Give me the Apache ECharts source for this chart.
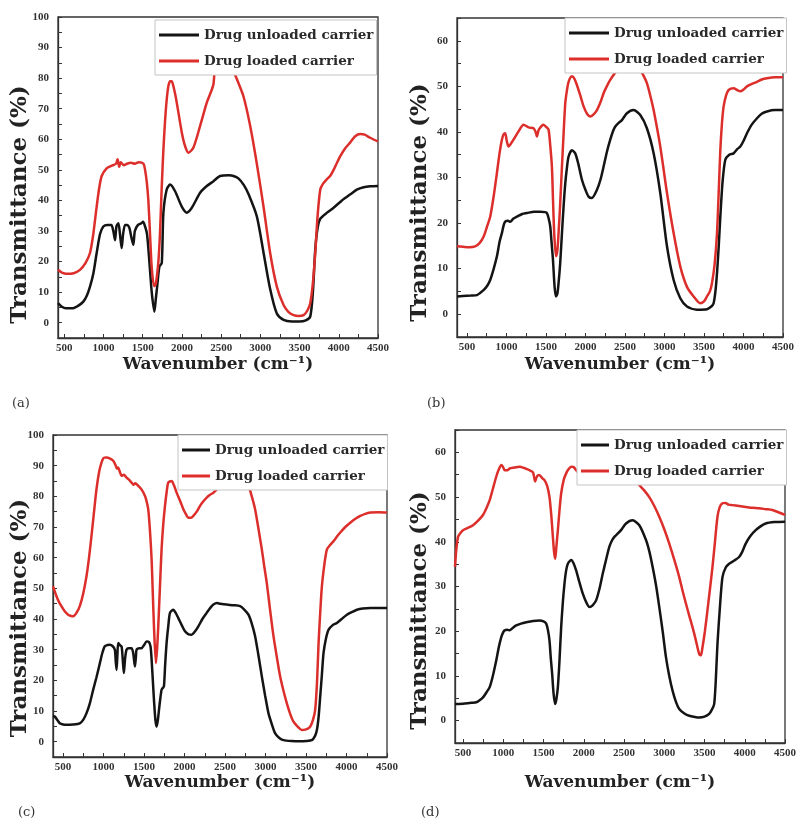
<!DOCTYPE html>
<html>
<head>
<meta charset="utf-8">
<script src="https://cdn.jsdelivr.net/npm/echarts@6/dist/echarts.min.js"></script>
<style>
html,body{margin:0;padding:0;background:#fff;}
#main{width:799px;height:820px;}
</style>
</head>
<body>
<div id="main"></div>
<script>
// FTIR spectra, 4 panels: [wavenumber, transmittance %]
var aUnloaded = [[420,6.4],[470,5.2],[520,4.7],[600,4.7],[680,5.6],[743,6.9],[790,9],[828,11.8],[870,16],[913,22.8],[956,29],[998,31.5],[1050,32],[1100,32],[1125,30],[1147,27],[1165,31.5],[1190,32.5],[1210,29],[1232,24.4],[1250,29],[1275,32],[1300,32],[1330,31],[1355,28],[1380,25.5],[1400,30],[1440,32],[1480,32.5],[1505,33],[1530,31.5],[1555,29],[1585,20],[1615,10],[1649,3.6],[1668,8],[1685,12],[1713,18.4],[1743,19.5],[1764,36],[1806,43.6],[1850,45.2],[1913,43],[1998,38],[2062,36],[2126,37.6],[2232,42.5],[2317,44.7],[2402,46.3],[2487,48],[2600,48.2],[2657,48],[2720,47.2],[2790,45],[2850,42],[2955,34.8],[3040,23],[3125,11],[3210,3],[3296,0.9],[3400,0.4],[3500,0.4],[3580,0.8],[3636,2],[3670,10],[3700,24],[3730,31],[3764,34],[3850,36],[3934,37.6],[4040,40],[4147,42],[4230,43.5],[4317,44.3],[4400,44.6],[4500,44.7]];
var aLoaded = [[420,17.3],[470,16.4],[530,16],[620,16.2],[700,17.3],[770,19.5],[828,22.8],[870,29],[913,38],[945,44],[977,48],[1040,50.5],[1100,51.3],[1160,52],[1180,53.5],[1200,51],[1220,52.5],[1260,51.5],[1300,52],[1350,52.3],[1400,52],[1450,52.5],[1510,52],[1530,50],[1552,46],[1572,40],[1595,28],[1615,18],[1645,12],[1665,12.5],[1680,15],[1700,20],[1720,29],[1742,44],[1764,56.7],[1785,66],[1806,73],[1828,77.5],[1850,79],[1870,79],[1890,77.5],[1920,74],[1955,68.8],[2000,62],[2040,57.8],[2083,55.6],[2147,57.3],[2232,64.4],[2317,72],[2370,75.5],[2402,78],[2423,84],[2480,89],[2540,90],[2590,88],[2615,84],[2660,82],[2700,79.7],[2785,74],[2870,64.4],[2955,52],[3040,38],[3125,22.8],[3210,11.8],[3296,5.8],[3360,3.5],[3423,2.5],[3490,2.2],[3551,2.5],[3600,4],[3636,6.4],[3670,13],[3700,22.8],[3730,35],[3764,43.6],[3800,45.5],[3849,47],[3890,48],[3934,50],[3980,52.5],[4019,54.5],[4080,57],[4147,59],[4210,61],[4274,61.7],[4330,61.5],[4400,60.5],[4500,59.3]];

var bUnloaded = [[375,3.9],[450,4],[550,4.1],[627,4.2],[711,5.3],[760,6.3],[795,7.5],[840,10],[880,12.7],[915,16],[943,17.8],[965,19.5],[985,20.3],[1020,20.5],[1048,20.3],[1090,21],[1133,21.4],[1200,22],[1260,22.2],[1350,22.5],[1428,22.5],[1490,22.4],[1513,22.2],[1535,21],[1555,19.2],[1575,15],[1589,12],[1610,6],[1627,3.9],[1645,4.5],[1660,6.8],[1680,11],[1703,17.8],[1725,24],[1745,28.7],[1765,32],[1787,34.6],[1829,36],[1871,35.3],[1910,33],[1956,29.5],[2000,27.3],[2040,25.8],[2082,25.5],[2146,27.3],[2190,29.5],[2230,32.4],[2270,35.5],[2314,38.3],[2350,40.2],[2378,41.2],[2420,42],[2462,42.6],[2525,44.1],[2610,44.8],[2694,43.7],[2778,40.8],[2863,35.3],[2947,26.6],[3032,14.9],[3116,7.5],[3200,3.5],[3285,1.7],[3411,1],[3538,1.1],[3600,1.8],[3622,2.4],[3645,5],[3665,9],[3687,15],[3707,21.4],[3735,29],[3770,33.9],[3820,35],[3875,35.3],[3920,36.2],[3960,36.8],[4000,38],[4044,39.7],[4100,41.5],[4171,43],[4230,44],[4297,44.5],[4400,44.8],[4500,44.8]];
var bLoaded = [[375,14.9],[450,14.8],[530,14.7],[605,14.9],[660,15.6],[711,17],[760,19.5],[795,21.4],[840,26],[880,31],[915,35.5],[943,38.3],[965,39.5],[985,39.7],[1005,38],[1027,36.8],[1060,37.5],[1090,38.3],[1150,40],[1217,41.6],[1280,41],[1344,40.8],[1370,40],[1386,39],[1410,40.5],[1470,41.6],[1510,41],[1534,40.5],[1555,37],[1576,32.4],[1590,25],[1605,17.8],[1627,12.7],[1645,14],[1660,17.8],[1680,24],[1703,32.4],[1725,40],[1745,46.3],[1765,49],[1787,51],[1829,52.2],[1860,51.7],[1892,50.3],[1935,48],[1977,45.6],[2020,44],[2061,43.4],[2100,43.8],[2146,44.8],[2190,46.5],[2230,48.5],[2270,50],[2314,51.4],[2360,52.6],[2399,53.6],[2470,55.5],[2550,56.5],[2620,56],[2694,53.6],[2740,52.2],[2778,50.7],[2820,48],[2863,44.8],[2947,36.8],[3032,26.6],[3116,17.8],[3200,10.5],[3285,6],[3369,3.9],[3453,2.4],[3500,2.8],[3538,3.9],[3575,5],[3601,6.8],[3635,11],[3665,17.8],[3687,27],[3707,36],[3728,42],[3749,45.6],[3780,48],[3812,49.2],[3875,49.6],[3920,49.2],[3960,48.9],[4000,49.3],[4044,50],[4100,50.5],[4171,51],[4230,51.5],[4297,51.8],[4400,52],[4500,52]];

var cUnloaded = [[375,8.4],[397,8.2],[430,7],[459,6],[500,5.6],[541,5.5],[620,5.6],[706,6],[750,7.2],[789,9.3],[830,12.5],[871,16.9],[912,21],[954,25.6],[985,29],[1015,31.1],[1050,31.5],[1077,31.6],[1110,31.2],[1139,30],[1150,26],[1160,23.4],[1170,28],[1180,32.2],[1200,31.5],[1222,31],[1236,27],[1250,22.4],[1265,27],[1283,30],[1310,30.5],[1345,30.5],[1365,29],[1387,24.5],[1400,28],[1407,30],[1440,30.5],[1469,30.5],[1500,31.5],[1531,32.7],[1560,32.5],[1580,31],[1593,26.7],[1608,20],[1622,13.6],[1640,7],[1655,4.9],[1670,7],[1684,10.4],[1700,14],[1716,16.9],[1730,17.5],[1745,18],[1760,25],[1778,32.2],[1800,38],[1820,42],[1861,43],[1890,42],[1923,40.3],[1965,38],[2005,36],[2050,35],[2088,34.9],[2130,36],[2170,37.6],[2220,40],[2273,42],[2320,43.7],[2356,44.7],[2400,45.2],[2440,45],[2521,44.7],[2600,44.5],[2686,44.2],[2740,43],[2789,41.4],[2830,38.5],[2871,34.4],[2910,28.5],[2954,21.3],[2995,15],[3036,9.3],[3080,5.5],[3119,2.7],[3170,1.2],[3222,0.5],[3320,0.2],[3428,0.1],[3500,0.2],[3572,0.5],[3610,1.8],[3634,3.8],[3655,8],[3675,14.7],[3695,21.5],[3716,28.9],[3745,33.5],[3778,36.5],[3830,38],[3881,38.7],[3940,40],[4005,41.4],[4070,42.3],[4129,43],[4200,43.4],[4294,43.6],[4400,43.6],[4500,43.6]];
var cLoaded = [[375,50.7],[418,47.4],[450,45.5],[479,44.2],[520,42.5],[562,41.4],[600,41],[624,40.9],[665,42],[706,44.2],[750,48.5],[789,54],[820,60],[850,67],[880,74.5],[912,82.3],[945,88],[974,91],[1000,92.5],[1036,92.7],[1080,92.3],[1119,91.6],[1150,90],[1165,89],[1180,89.4],[1200,88],[1222,86.7],[1250,87],[1283,86.1],[1310,85.5],[1345,84.5],[1370,83.8],[1390,84.3],[1428,83.4],[1470,82.2],[1510,80.2],[1530,78.5],[1551,75.8],[1572,69],[1593,59.4],[1608,48],[1622,37.6],[1646,25.6],[1660,30],[1675,37.6],[1695,50],[1716,62.7],[1737,71],[1758,76.9],[1779,81.5],[1799,84.5],[1840,85],[1870,83.5],[1902,81.2],[1945,78.5],[1985,75.8],[2020,74],[2046,73],[2080,73],[2108,73.6],[2150,75],[2191,76.9],[2230,78.3],[2273,79.6],[2315,80.5],[2356,81.2],[2390,82],[2418,82.9],[2470,86],[2550,88.5],[2640,88.5],[2720,86],[2789,83.4],[2830,80],[2871,75.8],[2912,69.5],[2954,62.7],[2985,57],[3015,51.8],[3056,43],[3098,34.4],[3140,27.5],[3180,21.3],[3222,16.5],[3263,12.5],[3305,9],[3345,6.5],[3400,4.8],[3448,3.8],[3500,4],[3551,4.9],[3585,7],[3613,10.4],[3635,19],[3655,32.2],[3675,42],[3696,50.7],[3725,57.5],[3758,62.7],[3800,64.2],[3840,65.4],[3880,66.8],[3923,68.2],[3985,70],[4046,71.4],[4110,72.7],[4170,73.6],[4230,74.3],[4294,74.7],[4400,74.8],[4500,74.7]];

var dUnloaded = [[400,3.7],[417,3.7],[500,3.8],[600,4],[665,4.1],[710,4.6],[748,5.2],[790,6.3],[831,7.5],[870,10],[913,13.5],[945,16.5],[975,18.7],[1000,19.8],[1017,20.2],[1050,20.3],[1079,20.2],[1120,20.8],[1161,21.3],[1220,21.7],[1285,22],[1370,22.3],[1450,22.4],[1500,22.2],[1533,21.7],[1555,20.2],[1574,17.9],[1590,14],[1607,10.5],[1625,6],[1645,3.7],[1660,4.8],[1678,7.5],[1697,13],[1719,20.9],[1740,26.5],[1760,30.6],[1780,33.5],[1802,35.1],[1843,35.9],[1870,35.3],[1905,33.6],[1945,31],[1988,28.4],[2030,26.5],[2070,25.4],[2110,25.8],[2153,26.9],[2195,29.5],[2236,32.9],[2277,36],[2318,38.9],[2350,40.3],[2380,41.1],[2420,41.8],[2463,42.6],[2525,44.1],[2607,44.8],[2690,43.7],[2773,40.4],[2815,37.8],[2855,34.4],[2900,30],[2938,25.4],[2980,20],[3021,14.2],[3062,10],[3103,6.7],[3145,4.2],[3186,2.6],[3250,1.6],[3310,1.1],[3434,0.7],[3500,0.9],[3558,1.5],[3590,2.4],[3620,3.7],[3640,9],[3661,17.2],[3690,25],[3723,32.1],[3765,34.3],[3806,35.1],[3870,35.8],[3930,36.6],[3970,37.8],[4012,39.6],[4070,41.3],[4136,42.6],[4200,43.5],[4260,44.1],[4370,44.4],[4500,44.5]];
var dLoaded = [[400,34.4],[415,38],[438,41.1],[470,42],[500,42.6],[560,43.1],[624,43.7],[690,44.8],[748,46],[790,47.5],[831,49.3],[870,51.8],[913,54.6],[945,56.2],[975,57.2],[995,56.8],[1017,56],[1050,56],[1079,56.4],[1140,56.6],[1202,56.8],[1260,56.5],[1326,56],[1370,55.5],[1395,53.5],[1409,54.2],[1430,54.9],[1450,54.9],[1480,54.3],[1512,53.8],[1545,52.5],[1574,50],[1596,46],[1616,41.1],[1632,37.5],[1645,36.2],[1660,39],[1678,42.6],[1698,47],[1719,50.8],[1750,53.8],[1781,55.3],[1810,56.2],[1843,56.8],[1875,56.7],[1905,56],[1960,55],[2010,54.2],[2070,53.7],[2150,55.5],[2250,57],[2400,57.3],[2550,56.2],[2620,55],[2690,52.7],[2750,51.5],[2814,50],[2876,48],[2938,45.6],[3000,42.8],[3062,39.6],[3124,36],[3186,32.1],[3228,29],[3269,26.2],[3310,23.5],[3351,20.9],[3392,18],[3434,14.9],[3455,14.6],[3475,16.4],[3505,20],[3537,24.7],[3568,29.5],[3599,34.4],[3630,40],[3661,45.6],[3690,47.8],[3723,48.6],[3760,48.7],[3800,48.3],[3847,48.2],[3930,48],[4012,47.8],[4095,47.6],[4178,47.5],[4260,47.3],[4343,47.1],[4420,46.6],[4500,46]];

var xLabels = [500,1000,1500,2000,2500,3000,3500,4000,4500];
var xTicks = [500,750,1000,1250,1500,1750,2000,2250,2500,2750,3000,3250,3500,3750,4000,4250,4500];
var yLabels100 = [0,10,20,30,40,50,60,70,80,90,100];
var yTicks100 = [0,5,10,15,20,25,30,35,40,45,50,55,60,65,70,75,80,85,90,95,100];
var yLabels60 = [0,10,20,30,40,50,60];
var yTicks60 = [0,5,10,15,20,25,30,35,40,45,50,55,60,65];

var seriesNames = ['Drug unloaded carrier', 'Drug loaded carrier'];
var panelLetters = ['(a)', '(b)', '(c)', '(d)'];

var BLACK = '#141414';
var RED = '#dc2e2b';
var serif = 'DejaVu Serif';

// yShift pushes the rotated y title downwards (title sits lower than axis middle)
var panels = [
    {data:[aUnloaded, aLoaded], grid:{left:58, top:17, width:320, height:321}, xMin:420, yMax:100, yLab:yLabels100, yTk:yTicks100,
     yGap:26, yShift:27, xGap:18, legend:{left:155, top:20, w:40}, letter:{left:12, top:397}},
    {data:[bUnloaded, bLoaded], grid:{left:457, top:18, width:326, height:319}, xMin:375, yMax:65, yLab:yLabels60, yTk:yTicks60,
     yGap:25, yShift:25, xGap:19, legend:{left:565, top:18, w:40}, letter:{left:427, top:397}},
    {data:[cUnloaded, cLoaded], grid:{left:53, top:435, width:334, height:322}, xMin:375, yMax:100, yLab:yLabels100, yTk:yTicks100,
     yGap:21, yShift:22, xGap:15, legend:{left:178, top:435, w:28}, letter:{left:18, top:806}},
    {data:[dUnloaded, dLoaded], grid:{left:455, top:430, width:331, height:313}, xMin:400, yMax:65, yLab:yLabels60, yTk:yTicks60,
     yGap:23, yShift:24, xGap:31, legend:{left:577, top:430, w:28}, letter:{left:421, top:806}}
];

var grids = [], xAxes = [], yAxes = [], series = [], legends = [], graphics = [];

function plainNum(v) { return String(v); }

for (var i = 0; i < panels.length; i++) {
    var p = panels[i];
    grids.push({
        left: p.grid.left, top: p.grid.top, width: p.grid.width, height: p.grid.height,
        show: true, borderColor: '#333', borderWidth: 1.3, backgroundColor: '#fff'
    });
    xAxes.push({
        gridIndex: i, type: 'value', min: p.xMin, max: 4500,
        name: 'Wavenumber (cm⁻¹)', nameLocation: 'middle', nameGap: p.xGap,
        nameTextStyle: {fontFamily: serif, fontWeight: 'bold', fontSize: 17, color: '#222'},
        axisLine: {onZero: false, lineStyle: {color: '#333', width: 1.3}},
        axisTick: {inside: true, length: 4, customValues: xTicks, lineStyle: {color: '#333'}},
        axisLabel: {customValues: xLabels, formatter: plainNum, margin: 5, fontFamily: 'Liberation Serif', fontWeight: 'bold', fontSize: 11, color: '#333'},
        splitLine: {show: false}
    });
    yAxes.push({
        gridIndex: i, type: 'value', min: -5, max: p.yMax,
        name: 'Transmittance (%)', nameLocation: 'middle', nameGap: p.yGap, nameRotate: 90,
        nameMoveOverlap: false,
        nameTextStyle: {fontFamily: serif, fontWeight: 'bold', fontSize: 23, color: '#222',
            verticalAlign: 'bottom', padding: [0, p.yShift * 2, 0, 0]},
        axisLine: {show: true, onZero: false, lineStyle: {color: '#333', width: 1.3}},
        axisTick: {inside: true, length: 4, customValues: p.yTk, lineStyle: {color: '#333'}},
        axisLabel: {customValues: p.yLab, formatter: plainNum, margin: 9, fontFamily: 'Liberation Serif', fontWeight: 'bold', fontSize: 11, color: '#333'},
        splitLine: {show: false}
    });
    for (var s = 0; s < 2; s++) {
        series.push({
            name: seriesNames[s], type: 'line', xAxisIndex: i, yAxisIndex: i,
            data: p.data[s], showSymbol: false, symbol: 'none', smooth: 0.25,
            color: s === 0 ? BLACK : RED,
            lineStyle: {width: 2.5, color: s === 0 ? BLACK : RED},
            z: 2 + s
        });
    }
    legends.push({
        orient: 'vertical', left: p.legend.left, top: p.legend.top,
        icon: 'rect', itemWidth: p.legend.w, itemHeight: 3, itemGap: 12,
        padding: [8, 3, 7, 4], backgroundColor: '#fff', borderColor: '#c4c4c4', borderWidth: 1,
        selectedMode: false, z: 10,
        textStyle: {fontFamily: serif, fontWeight: 'bold', fontSize: 13.5, color: '#2a2a2a'},
        data: seriesNames
    });
    graphics.push({
        type: 'text', left: p.letter.left, top: p.letter.top,
        style: {text: panelLetters[i], font: '13px "DejaVu Serif"', fill: '#333'}
    });
}

var myChart = echarts.init(document.getElementById('main'), null, {renderer: 'canvas'});
myChart.setOption({
    backgroundColor: '#FFFFFF',
    animation: false,
    grid: grids,
    xAxis: xAxes,
    yAxis: yAxes,
    legend: legends,
    series: series,
    graphic: graphics
});
</script>
</body>
</html>
